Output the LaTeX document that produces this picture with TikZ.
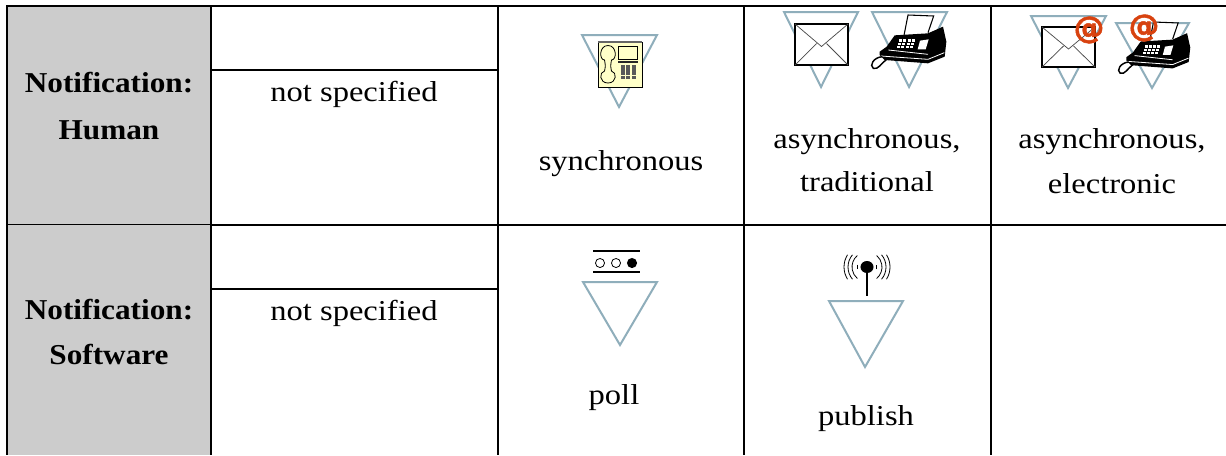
\documentclass[tikz,border=0pt]{standalone}
\usepackage{fontspec}
\setmainfont[FakeStretch=1.13]{Liberation Serif}
\newfontfamily\headfont[FakeStretch=1.085]{Liberation Serif Bold}
\newfontfamily\atfont[FakeBold=1.6]{DejaVu Sans Bold}
\definecolor{tri}{HTML}{8FAEBB}
\definecolor{cellgray}{HTML}{CCCCCC}
\definecolor{atcol}{HTML}{D8420F}
\definecolor{phoneyellow}{HTML}{FFFFC8}
\tikzset{
 x=0.75pt,y=-0.75pt,
 grid/.style={black,line width=1.5pt},
 thinrule/.style={black,line width=0.75pt},
 tritop/.style={draw=tri,line width=1.5pt,line join=miter,fill=white},
 body/.style={font=\fontsize{21.6pt}{26pt}\selectfont,anchor=base,inner sep=0pt},
 head/.style={anchor=base,inner sep=0pt,font=\headfont\fontsize{21.6pt}{26pt}\selectfont},
 atsign/.style={font=\atfont\fontsize{23pt}{23pt}\selectfont,text=atcol,inner sep=0pt},
 envbox/.style={draw=black,line width=1.5pt,fill=white},
 envfold/.style={draw=black!70,line width=0.55pt},
 radiowave/.style={draw=black,line width=0.6pt},
}
% triangle: left, right, apex x, top y, apex y
\newcommand{\tritangle}[5]{\draw[tritop] (#1,#4) -- (#2,#4) -- (#3,#5) -- cycle;}
\newcommand{\envicon}[4]{%
 \draw[envbox] (#1,#3) rectangle (#2,#4);
 \draw[envfold] (#1,#3) -- ({(#1+#2)/2},{(#3+#4)/2+2}) -- (#2,#3);
 \draw[envfold] (#1,#4) -- ({(#1+#2)/2-5},{(#3+#4)/2-1});
 \draw[envfold] (#2,#4) -- ({(#1+#2)/2+5},{(#3+#4)/2-1});
}
% fax drawn in crop units (1 unit = 1/3 px); #1 x shift #2 y shift #3 scale
\newcommand{\faxicon}[3]{%
\begin{scope}[shift={(#1,#2)},x=0.25pt*#3,y=-0.25pt*#3]
 \fill[white] (489,45) -- (566,48) -- (547,102) -- (477,108) -- cycle;
 \draw[black,line width=0.8pt] (477,106) -- (489,45) -- (566,48) -- (549,98);
 \fill[black] (404,155) -- (425,140) -- (449,106) -- (549,100) -- (594,80) -- (604,125) -- (599,170) -- (549,190) -- (419,180) -- (404,165) -- cycle;
 \draw[white,line width=0.6pt] (408,168) -- (549,178) -- (598,158);
 \draw[white,line width=0.6pt] (430,150) -- (549,163);
 \fill[white] (525,122) -- (551,118) -- (542,148) -- (518,148) -- cycle;
 \foreach \i in {0,1,2,3}{\foreach \j in {0,1,2}{
   \fill[white] ({462+\i*13-\j*3},{118+\j*10}) rectangle +(9,7);}}
 \draw[black,line width=1.1pt] (412,170) .. controls (385,172) and (372,197) .. (385,205) .. controls (400,210) and (408,190) .. (425,178);
\end{scope}}
\begin{document}
\begin{tikzpicture}
\useasboundingbox (0,0) rectangle (1226,455);
\fill[white] (0,0) rectangle (1226,455);
% gray header cells
\fill[cellgray] (7,5) rectangle (211,455);
% grid
\draw[grid] (6,5.5) -- (1226,5.5);
\draw[grid] (7,5) -- (7,455);
\draw[grid] (211,5) -- (211,455);
\draw[grid] (498,5) -- (498,455);
\draw[grid] (744,5) -- (744,455);
\draw[grid] (990.5,5) -- (990.5,455);
\draw[grid] (211,70) -- (498,70);
\draw[grid] (211,289) -- (498,289);
\draw[grid] (211,224.5) -- (1226,224.5);
\draw[thinrule] (8,224.5) -- (210,224.5);
% header text
\node[head] (h1a) at (109,92) {Notification:};
\node[head] (h1b) at (109,139) {Human};
\node[head] (h2a) at (109,319) {Notification:};
\node[head] (h2b) at (109,364) {Software};
% body text
\node[body] (ns1) at (354,101) {not specified};
\node[body] (ns2) at (354,320) {not specified};
\node[body] (sy) at (621,170) {synchronous};
\node[body] (as1a) at (867,148) {asynchronous,};
\node[body] (as1b) at (867,191) {traditional};
\node[body] (as2a) at (1112,148) {asynchronous,};
\node[body] (as2b) at (1112,193) {electronic};
\node[body] (pl) at (614,404) {poll};
\node[body] (pb) at (866,425) {publish};
% phone
\tritangle{582}{657}{619}{35}{107}
\draw[black,fill=phoneyellow,line width=0.7pt] (598,42) rectangle (642,87);
\draw[black!60,line width=1pt] (598,42) -- (642,42);
\draw[black,line width=0.6pt,fill=phoneyellow] (608,45.5) .. controls (599,45.5) and (599,60) .. (604.5,60) .. controls (605.5,65) and (605.5,67) .. (604.5,71) .. controls (599,72) and (599,83) .. (608,83) .. controls (617,83) and (617,72) .. (611.5,71) .. controls (610.5,67) and (610.5,65) .. (611.5,60) .. controls (617,60) and (617,45.5) .. (608,45.5) -- cycle;
\draw[black,line width=0.5pt] (618.5,46) rectangle (637,59);
\fill[black!85] (618,61) rectangle (638,63);
\foreach \i in {0,1,2}{\foreach \j in {0,1,2,3}{
  \fill[black!65] ({621+\i*5.3},{64.5+\j*3.8}) rectangle +(4,3.2);}}
% envelope and fax 1
\tritangle{784}{858}{821}{12}{87}
\envicon{795}{848}{24}{65}
\tritangle{872}{947}{909}{12}{87}
\faxicon{745}{0}{1}
% envelope and fax 2
\tritangle{1031}{1106}{1068}{16}{88}
\envicon{1042}{1095}{27}{67}
\node[atsign] (at1) at (1089,30) {@};
\tritangle{1116}{1189}{1152}{23}{88}
\faxicon{997}{7.6}{0.96}
\node[atsign] (at2) at (1144,28) {@};
% poll
\tritangle{583}{657}{620}{282}{345}
\draw[black,line width=1.1pt] (593,251) -- (640,251);
\draw[black,line width=1.1pt] (593,272) -- (640,272);
\draw[black,line width=0.6pt] (600,263) circle[radius=3.4pt];
\draw[black,line width=0.6pt] (616,263) circle[radius=3.4pt];
\fill[black] (632,263) circle[radius=3.8pt];
% publish
\tritangle{829}{903}{865}{301}{367}
\draw[black,line width=1.4pt] (867,267) -- (867,296);
\fill[black] (867,267) ellipse[x radius=4.9pt,y radius=4.5pt];
\foreach \r/\a in {10/14,15/50,19/40,23/32}{
  \draw[radiowave] (867,267)++(180-\a:\r*0.75pt) arc[start angle=180-\a,end angle=180+\a,radius=\r*0.75pt];
  \draw[radiowave] (867,267)++(-\a:\r*0.75pt) arc[start angle=-\a,end angle=\a,radius=\r*0.75pt];
}
\end{tikzpicture}
\end{document}
